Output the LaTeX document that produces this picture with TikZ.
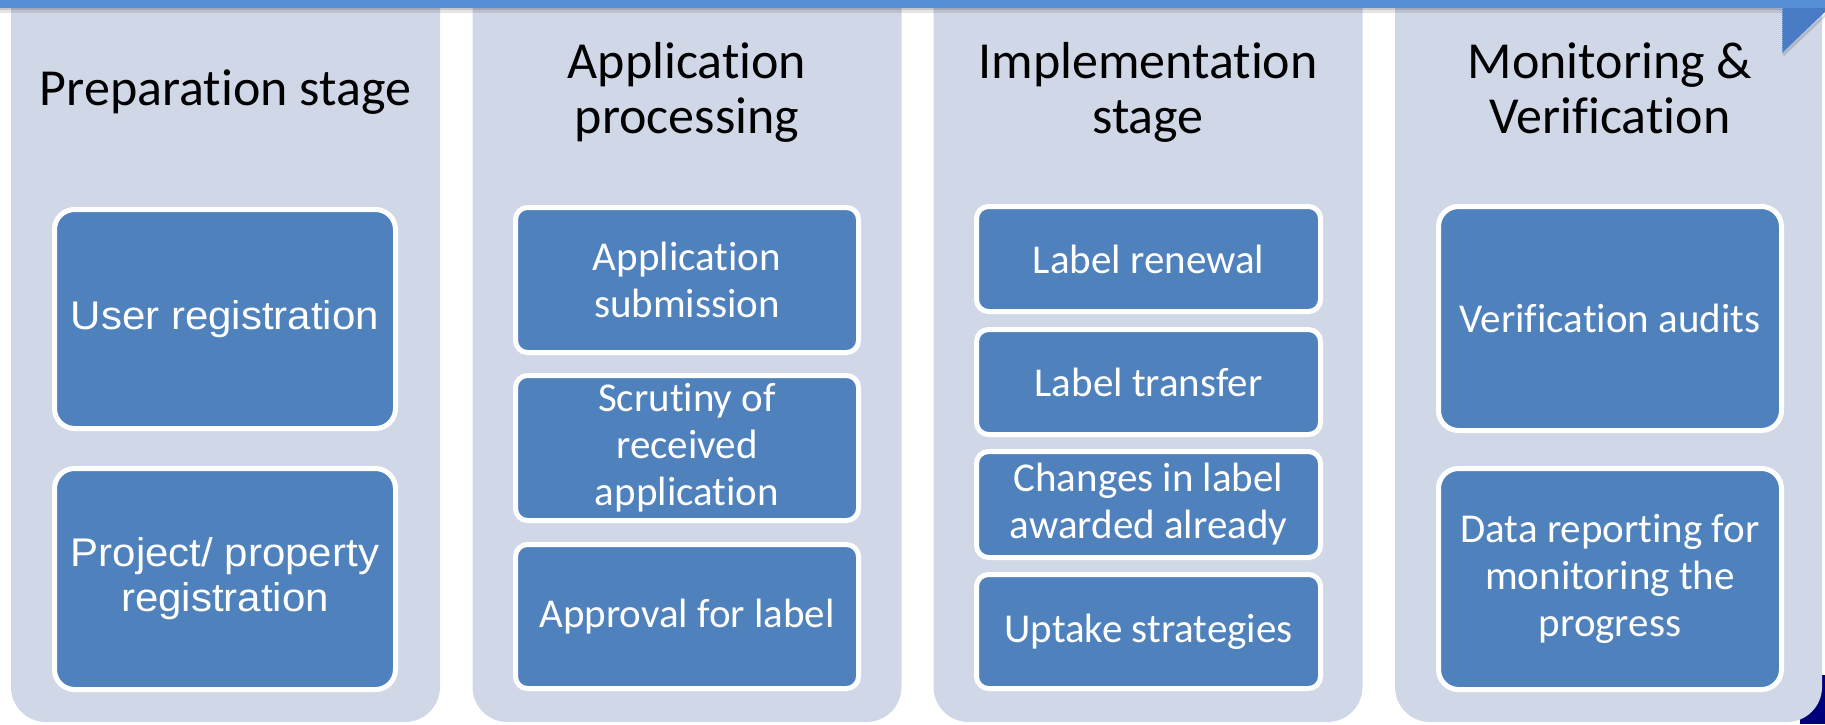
\documentclass[tikz,border=0pt]{standalone}
\usepackage{fontspec}
\setmainfont{Carlito}[Ligatures=NoCommon]
\newfontfamily\arialf{Liberation Sans}[FakeStretch=1.05]
\definecolor{colfill}{HTML}{D0D8E8}
\definecolor{boxfill}{HTML}{4F81BD}
\definecolor{bannerc}{HTML}{558ED5}
\definecolor{foldc}{HTML}{4A7CC6}
\definecolor{navyc}{HTML}{00007A}
\begin{document}
\begin{tikzpicture}[x=1pt,y=-1pt,
  column/.style={fill=colfill, rounded corners=35pt, minimum width=429pt,
    minimum height=782pt, inner sep=0pt},
  stagetitle/.style={text=black, align=center, inner sep=0pt,
    font=\fontsize{52}{55}\selectfont},
  taskbox/.style={draw=white, line width=5pt, fill=boxfill, text=white,
    align=center, inner sep=0pt, rounded corners=12pt,
    font=\fontsize{41}{47}\selectfont},
  bigbox/.style={taskbox, rounded corners=20pt},
  arialbox/.style={bigbox, font=\arialf\fontsize{40}{45}\selectfont}]
\useasboundingbox (0,0) rectangle (1825,724);
\clip (0,0) rectangle (1825,724);
% dark corner behind last column
\fill[navyc] (1800,675) rectangle (1825,724);
% columns
\node[column] (c1) at (225.5,331) {};
\node[column] (c2) at (687,331) {};
\node[column] (c3) at (1148,331) {};
\node[column, minimum width=427pt] (c4) at (1608.5,331) {};
% titles
\node[stagetitle, anchor=base] (t1) at (225.5,105) {Preparation stage};
\node[stagetitle, anchor=base] (t2) at (687,133) {Application\\processing};
\node[stagetitle, anchor=base] (t3) at (1148,133) {Implementation\\stage};
\node[stagetitle, anchor=base] (t4) at (1610,133) {Monitoring \&\\Verification};
% column 1
\node[arialbox, minimum width=341pt, minimum height=219pt] (b11) at (225,319) {User registration};
\node[arialbox, minimum width=341pt, minimum height=221pt] (b12) at (225,579) {Project/ property\\registration};
% column 2
\node[taskbox, minimum width=343pt, minimum height=145pt] (b21) at (687,280) {Application\\submission};
\node[taskbox, minimum width=343pt, minimum height=145pt] (b22) at (687,448) {Scrutiny of\\received\\application};
\node[taskbox, minimum width=343pt, minimum height=144pt] (b23) at (687,616.5) {Approval for label};
% column 3
\node[taskbox, minimum width=344pt, minimum height=105pt] (b31) at (1148.5,259) {Label renewal};
\node[taskbox, minimum width=344pt, minimum height=105pt] (b32) at (1148.5,382) {Label transfer};
\node[taskbox, minimum width=344pt, minimum height=106pt] (b33) at (1148.5,504.5) {Changes in label\\awarded already};
\node[taskbox, minimum width=344pt, minimum height=114pt] (b34) at (1148.5,631.5) {Uptake strategies};
% column 4
\node[bigbox, minimum width=343pt, minimum height=224pt] (b41) at (1610,318.5) {Verification audits};
\node[bigbox, minimum width=343pt, minimum height=221pt] (b42) at (1610,579) {Data reporting for\\monitoring the\\progress};
% banner with shadow
\fill[black, opacity=0.22] (0,8) rectangle (1782,10);
\fill[black, opacity=0.10] (0,10) rectangle (1782,12.5);
\fill[bannerc] (0,0) rectangle (1825,8);
% folded corner
\fill[black, opacity=0.15] (1782,53) -- (1825,14) -- (1825,17) -- (1784,56) -- cycle;
\fill[foldc] (1782,8) -- (1782,53) -- (1825,12) -- (1825,8) -- cycle;
\draw[white, opacity=0.4, densely dotted, line width=1pt] (1782,8) -- (1782,53);
\end{tikzpicture}
\end{document}
